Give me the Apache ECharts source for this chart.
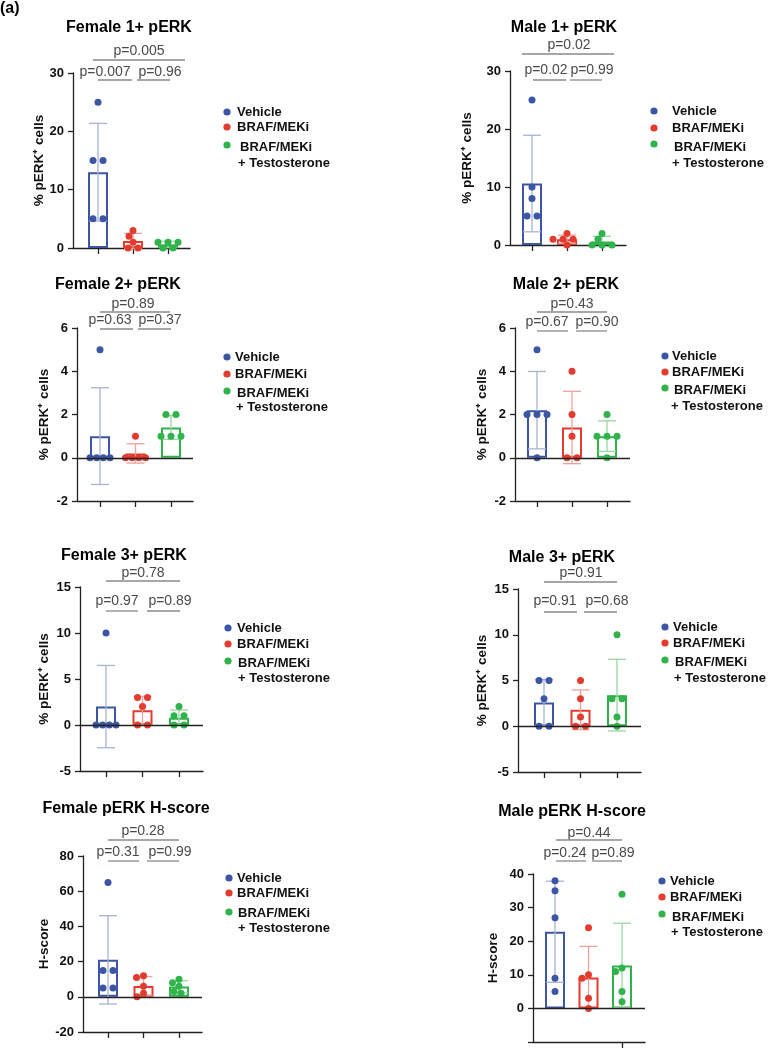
<!DOCTYPE html>
<html><head><meta charset="utf-8">
<script src="https://cdn.jsdelivr.net/npm/echarts@6/dist/echarts.min.js"></script>
<style>html,body{margin:0;padding:0;background:#fff}#c{width:768px;height:1050px}</style>
</head><body><div id="c"></div>
<script>
// ---------------- data ----------------
const groupNames = ['Vehicle', 'BRAF/MEKi', 'BRAF/MEKi + Testosterone'];
const legendLine1 = ['Vehicle', 'BRAF/MEKi', 'BRAF/MEKi'];
const legendLine2 = ['', '', '+ Testosterone'];
const panelTitles = ['Female 1+ pERK', 'Male 1+ pERK', 'Female 2+ pERK', 'Male 2+ pERK',
  'Female 3+ pERK', 'Male 3+ pERK', 'Female pERK H-score', 'Male pERK H-score'];
const yAxisNames = ['% pERK⁺ cells', '% pERK⁺ cells', '% pERK⁺ cells', '% pERK⁺ cells',
  '% pERK⁺ cells', '% pERK⁺ cells', 'H-score', 'H-score'];
const yTickValues = [[0, 10, 20, 30], [0, 10, 20, 30], [-2, 0, 2, 4, 6], [-2, 0, 2, 4, 6],
  [-5, 0, 5, 10, 15], [-5, 0, 5, 10, 15], [-20, 0, 20, 40, 60, 80], [-10, 0, 10, 20, 30, 40]];
const yTickLabelsHidden = [[], [], [], [], [], [], [], [-10]];
const xTickGroups = [[1, 2, 3], [1, 2, 3], [1, 2, 3], [1, 2, 3], [1, 2, 3], [1, 2, 3], [1, 2, 3], [3]];
const pOverall = ['p=0.005', 'p=0.02', 'p=0.89', 'p=0.43', 'p=0.78', 'p=0.91', 'p=0.28', 'p=0.44'];
const pVehVsBraf = ['p=0.007', 'p=0.02', 'p=0.63', 'p=0.67', 'p=0.97', 'p=0.91', 'p=0.31', 'p=0.24'];
const pBrafVsTesto = ['p=0.96', 'p=0.99', 'p=0.37', 'p=0.90', 'p=0.89', 'p=0.68', 'p=0.99', 'p=0.89'];

const f1Vehicle = [25, 15, 15, 5, 5], f1Braf = [3, 2, 1, 0, 0], f1Testo = [1, 1, 1, 0, 0];
const m1Vehicle = [25, 10, 8, 5, 5], m1Braf = [2, 1, 1, 1, 0], m1Testo = [2, 1, 0, 0, 0];
const f2Vehicle = [5, 0, 0, 0, 0], f2Braf = [1, 0, 0, 0, 0], f2Testo = [2, 2, 1, 1, 1];
const m2Vehicle = [5, 2, 2, 2, 0], m2Braf = [4, 2, 1, 0, 0], m2Testo = [2, 1, 1, 1, 0];
const f3Vehicle = [10, 0, 0, 0, 0], f3Braf = [3, 3, 2, 0, 0], f3Testo = [2, 1, 1, 0, 0];
const m3Vehicle = [5, 5, 3, 0, 0], m3Braf = [5, 3, 1, 0, 0], m3Testo = [10, 3, 3, 1, 0];
const fhVehicle = [65, 15, 15, 5, 5], fhBraf = [12, 11, 6, 2, 0], fhTesto = [10, 8, 6, 3, 2];
const mhVehicle = [38, 35, 27, 9, 5], mhBraf = [24, 10, 9, 3, 0], mhTesto = [34, 12, 11, 5, 2];

const panelValues = [
  [f1Vehicle, f1Braf, f1Testo], [m1Vehicle, m1Braf, m1Testo],
  [f2Vehicle, f2Braf, f2Testo], [m2Vehicle, m2Braf, m2Testo],
  [f3Vehicle, f3Braf, f3Testo], [m3Vehicle, m3Braf, m3Testo],
  [fhVehicle, fhBraf, fhTesto], [mhVehicle, mhBraf, mhTesto]
];

// ---------------- layout & style ----------------
const FONT = '"Liberation Sans", Arial, Helvetica, sans-serif';
const colors = ['#3c56a5', '#e33b2e', '#2fb34a'];
const errColors = ['#a7b3d3', '#eda29b', '#99d5a3'];
const axisColor = '#222';
// ax: y-axis x; end: x-axis end; top/bot: pixel of y max/min; c1/c3: group 1/3 centres
const L = [
  {ax: 73, end: 190, top: 73, bot: 248, c1: 98, c3: 168, gap: 27, title: [129, 28],
   pT: [139, 51], lT: [60, 93, 185], pL: [105, 72], pR: [160, 72], lp: [80, 98, 132, 137, 170],
   leg: {dx: 227, tx: 237, v: 112, b: 127, gd: 145, gt: 147, gtx: 240, t: 163, ttx: 238}},
  {ax: 510, end: 626, top: 71, bot: 245, c1: 532, c3: 602, gap: 36, title: [564, 28],
   pT: [569, 45], lT: [54, 522, 614], pL: [546, 70], pR: [592, 70], lp: [80, 533, 566, 570, 602],
   leg: {dx: 654, tx: 672, v: 111, b: 128, gd: 144, gt: 147, gtx: 674, t: 163, ttx: 672}},
  {ax: 77, end: 193, top: 328, bot: 501, c1: 100, c3: 171, gap: 26, title: [118, 285],
   pT: [133, 304], lT: [312, 100, 170], pL: [110, 320], pR: [160, 320], lp: [329, 100, 133, 138, 171],
   leg: {dx: 227, tx: 235, v: 357, b: 374, gd: 391, gt: 393, gtx: 237, t: 407, ttx: 236}},
  {ax: 515, end: 630, top: 328, bot: 501, c1: 537, c3: 607, gap: 26, title: [566, 285],
   pT: [572, 304], lT: [312, 537, 607], pL: [547, 322], pR: [597, 322], lp: [331, 537, 568, 576, 607],
   leg: {dx: 665, tx: 672, v: 356, b: 372, gd: 388, gt: 390, gtx: 674, t: 406, ttx: 671}},
  {ax: 80, end: 203, top: 587, bot: 771, c1: 106, c3: 179, gap: 29, title: [124, 556],
   pT: [143, 573], lT: [581, 106, 180], pL: [117, 601], pR: [170, 601], lp: [611, 106, 138, 147, 180],
   leg: {dx: 228, tx: 237, v: 628, b: 644, gd: 661, gt: 663, gtx: 238, t: 678, ttx: 238}},
  {ax: 518, end: 641, top: 589, bot: 772, c1: 544, c3: 617, gap: 29, title: [562, 558],
   pT: [581, 573], lT: [582, 544, 617], pL: [555, 601], pR: [607, 601], lp: [612, 544, 577, 584, 617],
   leg: {dx: 665, tx: 673, v: 627, b: 643, gd: 660, gt: 662, gtx: 675, t: 678, ttx: 674}},
  {ax: 83, end: 202, top: 856, bot: 1032, c1: 108, c3: 179, gap: 32, title: [126, 809],
   pT: [143, 831], lT: [840, 108, 179], pL: [118, 852], pR: [170, 852], lp: [861, 108, 139, 147, 179],
   leg: {dx: 229, tx: 237, v: 878, b: 893, gd: 912, gt: 913, gtx: 238, t: 928, ttx: 238}},
  {ax: 533, end: 645, top: 874, bot: 1042, c1: 555, c3: 622, gap: 33, title: [572, 812],
   pT: [589, 833], lT: [840, 556, 622], pL: [565, 853], pR: [613, 853], lp: [861, 556, 586, 592, 622],
   leg: {dx: 662, tx: 670, v: 881, b: 897, gd: 914, gt: 917, gtx: 672, t: 932, ttx: 671}}
];

// ---------------- helpers ----------------
function mean(a) { return a.reduce((s, v) => s + v, 0) / a.length; }
function sd(a) { const m = mean(a); return Math.sqrt(a.reduce((s, v) => s + (v - m) * (v - m), 0) / (a.length - 1)); }
// simple beeswarm: identical values spread symmetrically, groups shifted to avoid overlap
function swarm(vals, pxPerUnit) {
  const off = new Array(vals.length).fill(0);
  const placed = [];
  const D = 7;
  const uniq = Array.from(new Set(vals)).sort((a, b) => b - a);
  uniq.forEach(v => {
    const idx = vals.map((x, i) => x === v ? i : -1).filter(i => i >= 0);
    const m = idx.length;
    const sp = m <= 3 ? 10 : 20 / (m - 1);
    const base = idx.map((_, k) => (k - (m - 1) / 2) * sp);
    const ok = s => idx.every((i, k) => placed.every(j => {
      const dx = base[k] + s - off[j];
      const dy = (vals[i] - vals[j]) * pxPerUnit;
      return dx * dx + dy * dy >= D * D;
    }));
    let shift = 0;
    outer: for (let t = 0; t <= 30; t++) {
      const cands = t === 0 ? [0] : [-t * 0.5, t * 0.5];
      for (const s of cands) { if (ok(s)) { shift = s; break outer; } }
    }
    idx.forEach((i, k) => { off[i] = base[k] + shift; placed.push(i); });
  });
  return off;
}

// ---------------- build option ----------------
const grid = [], xAxis = [], yAxis = [], series = [], graphic = [];
const txt = (x, y, text, font, fill, align) => ({
  type: 'text', x: x, y: y, silent: true,
  style: {text: text, font: font, fill: fill, align: align || 'center', verticalAlign: 'middle',
          textAlign: align || 'center', textVerticalAlign: 'middle'}
});
const line = (x1, y1, x2, y2, stroke, w) => ({
  type: 'line', silent: true, shape: {x1, y1, x2, y2}, style: {stroke, lineWidth: w}
});

graphic.push(txt(0, 9, '(a)', 'bold 16px ' + FONT, '#000', 'left'));

panelValues.forEach((groups, p) => {
  const l = L[p];
  const ticks = yTickValues[p];
  const ymin = ticks[0], ymax = ticks[ticks.length - 1], step = ticks[1] - ticks[0];
  const sp = (l.c3 - l.c1) / 2;
  const xmin = 1 - (l.c1 - l.ax) / sp, xmax = 3 + (l.end - l.c3) / sp;
  const pxPerUnit = (l.bot - l.top) / (ymax - ymin);

  grid.push({left: l.ax, top: l.top, width: l.end - l.ax, height: l.bot - l.top,
             containLabel: false, outerBoundsMode: 'none'});
  xAxis.push({type: 'value', gridIndex: p, min: xmin, max: xmax,
    axisLine: {show: true, onZero: false, lineStyle: {color: axisColor, width: 1.3}},
    axisTick: {show: true, inside: false, length: 6, customValues: xTickGroups[p],
               lineStyle: {color: axisColor, width: 1.3}},
    axisLabel: {show: false}, splitLine: {show: false}});
  const hidden = yTickLabelsHidden[p];
  yAxis.push({type: 'value', gridIndex: p, min: ymin, max: ymax, interval: step,
    name: yAxisNames[p], nameLocation: 'middle', nameGap: l.gap, nameMoveOverlap: false,
    nameTextStyle: {fontFamily: FONT, fontWeight: 'bold', fontSize: 13.5, color: '#111'},
    axisLine: {show: true, onZero: false, lineStyle: {color: axisColor, width: 1.3}},
    axisTick: {show: true, inside: false, length: 5, lineStyle: {color: axisColor, width: 1.3}},
    axisLabel: {show: true, margin: 9, fontFamily: FONT, fontWeight: 'bold', fontSize: 13, color: '#111',
                formatter: v => hidden.indexOf(v) >= 0 ? '' : String(v)},
    splitLine: {show: false}});

  const means = groups.map(mean), sds = groups.map(sd);
  const barSeries = {
    type: 'bar', name: panelTitles[p], xAxisIndex: p, yAxisIndex: p, barWidth: 20, z: 2, silent: true,
    data: means.map((m, g) => ({value: [g + 1, m],
      itemStyle: {color: '#ffffff', borderColor: colors[g], borderWidth: 2}}))
  };
  if (ymin < 0) {
    barSeries.markLine = {silent: true, symbol: 'none', animation: false, label: {show: false},
      lineStyle: {color: axisColor, width: 1.3, type: 'solid'}, data: [{yAxis: 0}]};
  }
  series.push(barSeries);

  series.push({
    type: 'custom', name: panelTitles[p] + ' SD', xAxisIndex: p, yAxisIndex: p, z: 3, silent: true,
    data: means.map((m, g) => [g + 1, m, sds[g]]),
    renderItem: (params, api) => {
      const x = api.value(0), m = api.value(1), s = api.value(2);
      const g = Math.round(x) - 1;
      const pt = api.coord([x, m + s]), pb = api.coord([x, m - s]);
      const hw = 9, st = {stroke: errColors[g], lineWidth: 1.3};
      return {type: 'group', children: [
        {type: 'line', shape: {x1: pt[0], y1: pt[1], x2: pb[0], y2: pb[1]}, style: st},
        {type: 'line', shape: {x1: pt[0] - hw, y1: pt[1], x2: pt[0] + hw, y2: pt[1]}, style: st},
        {type: 'line', shape: {x1: pb[0] - hw, y1: pb[1], x2: pb[0] + hw, y2: pb[1]}, style: st}
      ]};
    }
  });

  groups.forEach((vals, g) => {
    const off = swarm(vals, pxPerUnit);
    series.push({
      type: 'scatter', name: groupNames[g], xAxisIndex: p, yAxisIndex: p, z: 4,
      symbol: 'circle', symbolSize: 7, itemStyle: {color: colors[g], opacity: 1},
      data: vals.map((v, i) => ({value: [g + 1, v], symbolOffset: [off[i], 0]}))
    });
  });

  // title
  graphic.push(txt(l.title[0], l.title[1], panelTitles[p], 'bold 16px ' + FONT, '#000'));
  // p-value annotations
  const pf = '14px ' + FONT, pc = '#4a4a4a', lc = '#8a8a8a';
  graphic.push(txt(l.pT[0], l.pT[1], pOverall[p], pf, pc));
  graphic.push(line(l.lT[1], l.lT[0], l.lT[2], l.lT[0], lc, 1.3));
  graphic.push(txt(l.pL[0], l.pL[1], pVehVsBraf[p], pf, pc));
  graphic.push(txt(l.pR[0], l.pR[1], pBrafVsTesto[p], pf, pc));
  graphic.push(line(l.lp[1], l.lp[0], l.lp[2], l.lp[0], lc, 1.3));
  graphic.push(line(l.lp[3], l.lp[0], l.lp[4], l.lp[0], lc, 1.3));
  // legend
  const lf = 'bold 13px ' + FONT, lg = l.leg;
  const rows = [[lg.v, lg.v, lg.tx], [lg.b, lg.b, lg.tx], [lg.gd, lg.gt, lg.gtx]];
  rows.forEach((r, g) => {
    graphic.push({type: 'circle', silent: true, shape: {cx: lg.dx, cy: r[0], r: 3.6}, style: {fill: colors[g]}});
    graphic.push(txt(r[2], r[1], legendLine1[g], lf, '#111', 'left'));
  });
  graphic.push(txt(lg.ttx, lg.t, legendLine2[2], lf, '#111', 'left'));
});

const chart = echarts.init(document.getElementById('c'), null, {renderer: 'canvas'});
chart.setOption({
  backgroundColor: '#ffffff',
  animation: false,
  textStyle: {fontFamily: FONT},
  grid, xAxis, yAxis, series, graphic
});
</script></body></html>
